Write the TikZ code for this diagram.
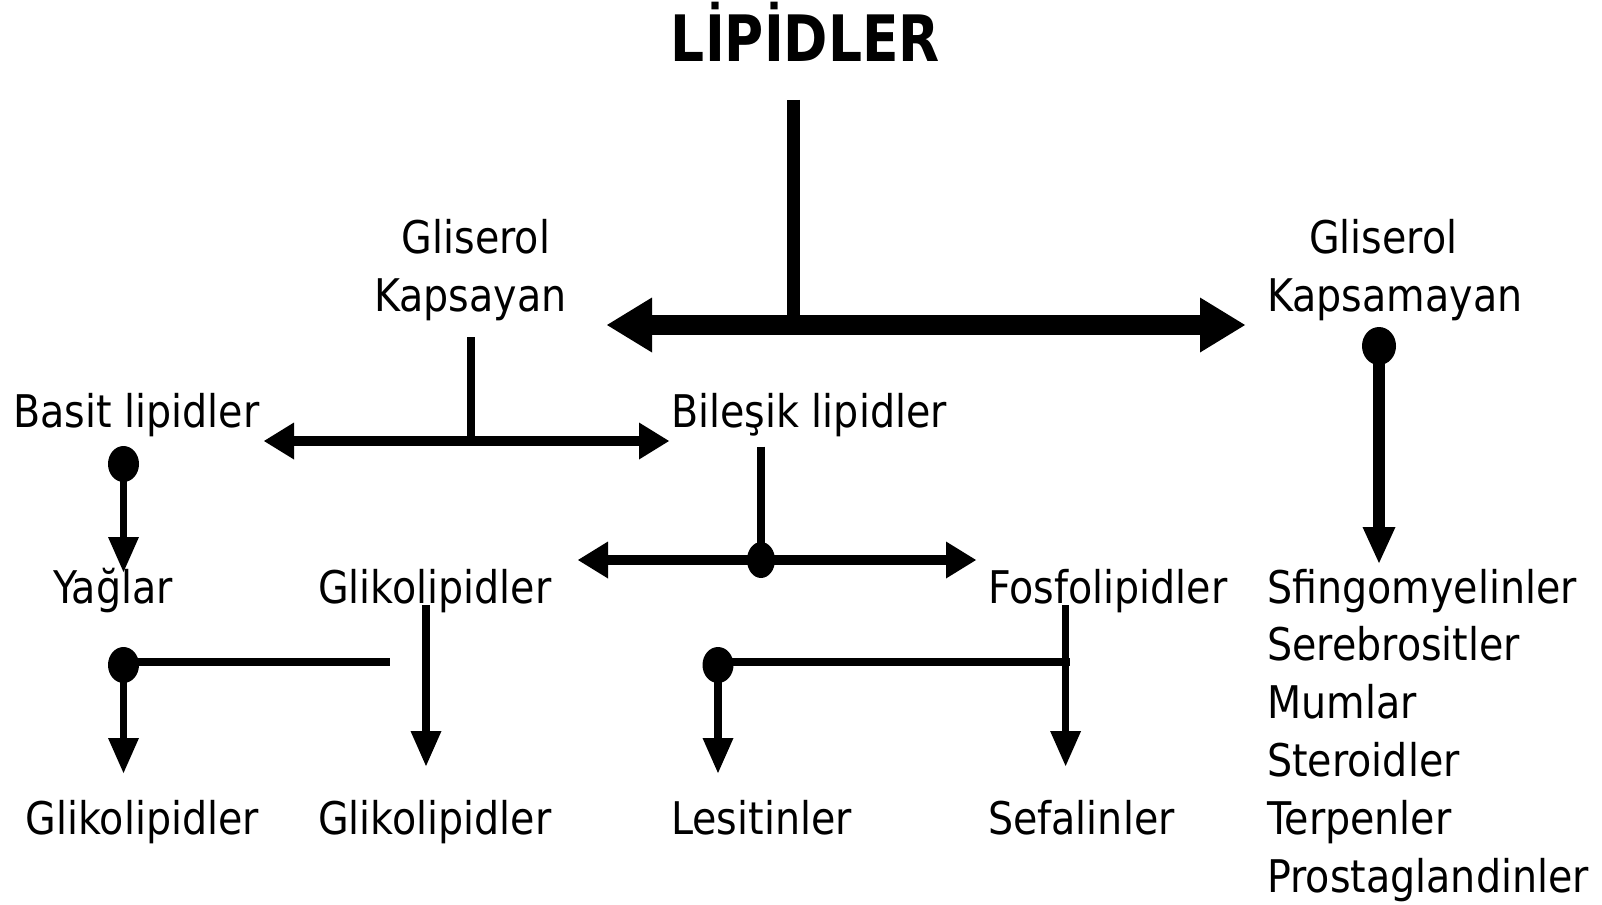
\documentclass[tikz,border=0pt]{standalone}
\usepackage{fontspec}
\setmainfont{DejaVu Sans}[FakeStretch=0.88]
\newfontfamily\titlefont{DejaVu Sans}[FakeStretch=0.835]
\usetikzlibrary{arrows.meta}
\begin{document}
\begin{tikzpicture}[x=1pt,y=-1pt,
  lbl/.style={anchor=base west, inner sep=0pt, font=\fontsize{45}{54}\selectfont},
  ttl/.style={anchor=base, inner sep=0pt, font=\titlefont\bfseries\fontsize{64}{70}\selectfont},
  bigarrow/.style={line width=20pt, arrows={Triangle[length=45pt,width=55pt,line width=0pt]-Triangle[length=45pt,width=55pt,line width=0pt]}},
  midarrow/.style={line width=10pt, arrows={Triangle[length=30pt,width=37pt,line width=0pt]-Triangle[length=30pt,width=37pt,line width=0pt]}},
  downarrow/.style={line width=7.5pt, arrows={-Triangle[length=35pt,width=31pt,line width=0pt]}},
  bigdown/.style={line width=12pt, arrows={-Triangle[length=36pt,width=33pt,line width=0pt]}},
  plain/.style={line width=8pt},
  ball/.style={fill=black},
]
\useasboundingbox (0,0) rectangle (1602,904);

% texts
\node[ttl] (title) at (805.5,61.7) {LİPİDLER};
\node[lbl] (gk1) at (401.5,253.5) {Gliserol};
\node[lbl] (gk2) at (374,311) {Kapsayan};
\node[lbl] (gm1) at (1309,253.5) {Gliserol};
\node[lbl] (gm2) at (1267,311) {Kapsamayan};
\node[lbl] (basit) at (13,427) {Basit lipidler};
\node[lbl] (bilesik) at (671,427) {Bileşik lipidler};
\node[lbl] (yag) at (53,603) {Yağlar};
\node[lbl] (gliko) at (317.8,603) {Glikolipidler};
\node[lbl] (fosfo) at (988,603) {Fosfolipidler};
\node[lbl] (sfin) at (1267,603) {Sfingomyelinler};
\node[lbl] (sere) at (1267,660.8) {Serebrositler};
\node[lbl] (mum) at (1267,718.6) {Mumlar};
\node[lbl] (ster) at (1267,776.4) {Steroidler};
\node[lbl] (terp) at (1267,834.2) {Terpenler};
\node[lbl] (pros) at (1267,892) {Prostaglandinler};
\node[lbl] (gliA) at (25.5,834) {Glikolipidler};
\node[lbl] (gliB) at (317.8,834) {Glikolipidler};
\node[lbl] (lesi) at (671,834) {Lesitinler};
\node[lbl] (sefa) at (988,834) {Sefalinler};

% junction coordinates
\coordinate (top) at (793,100);
\coordinate (hub) at (793,325);
\coordinate (Lend) at (607,325);
\coordinate (Rend) at (1245,325);
\coordinate (k1) at (471,337);
\coordinate (k2) at (471,441);
\coordinate (m1) at (264,441);
\coordinate (m2) at (669,441);
\coordinate (bB) at (123.5,464);
\coordinate (bBt) at (123.5,572);
\coordinate (s1) at (761,446.5);
\coordinate (s2) at (761,560);
\coordinate (n1) at (578,560);
\coordinate (n2) at (976,560);
\coordinate (rB) at (1379,346);
\coordinate (rBt) at (1379,563);
\coordinate (g1) at (426,605);
\coordinate (g2) at (426,766);
\coordinate (h1) at (123.5,662);
\coordinate (h2) at (390,662);
\coordinate (lb) at (123.5,665);
\coordinate (lbt) at (123.5,773);
\coordinate (f1) at (1065.6,605);
\coordinate (f2) at (1065.6,766);
\coordinate (f3) at (718,662);
\coordinate (fb) at (718,665);
\coordinate (fbt) at (718,773);

% connectors
\draw[line width=13pt] (top) -- ([yshift=-5pt]hub);
\draw[bigarrow] (Lend) -- (Rend);

\draw[plain] (k1) -- (k2);
\draw[midarrow] (m1) -- (m2);

\fill[ball] (bB) ellipse [x radius=15.5pt, y radius=18pt];
\draw[downarrow] (bB) -- (bBt);

\draw[plain] (s1) -- (s2);
\draw[midarrow] (n1) -- (n2);
\fill[ball] (s2) ellipse [x radius=14pt, y radius=18pt];

\fill[ball] (rB) ellipse [x radius=17pt, y radius=19pt];
\draw[bigdown] (rB) -- (rBt);

\draw[downarrow] (g1) -- (g2);
\draw[plain] (h1) -- (h2);
\fill[ball] (lb) ellipse [x radius=15.5pt, y radius=18pt];
\draw[downarrow] (lb) -- (lbt);

\draw[downarrow] (f1) -- (f2);
\draw[plain] (f3) -- ([xshift=4pt]f1 |- f3);
\fill[ball] (fb) ellipse [x radius=15.5pt, y radius=18pt];
\draw[downarrow] (fb) -- (fbt);
\end{tikzpicture}
\end{document}
